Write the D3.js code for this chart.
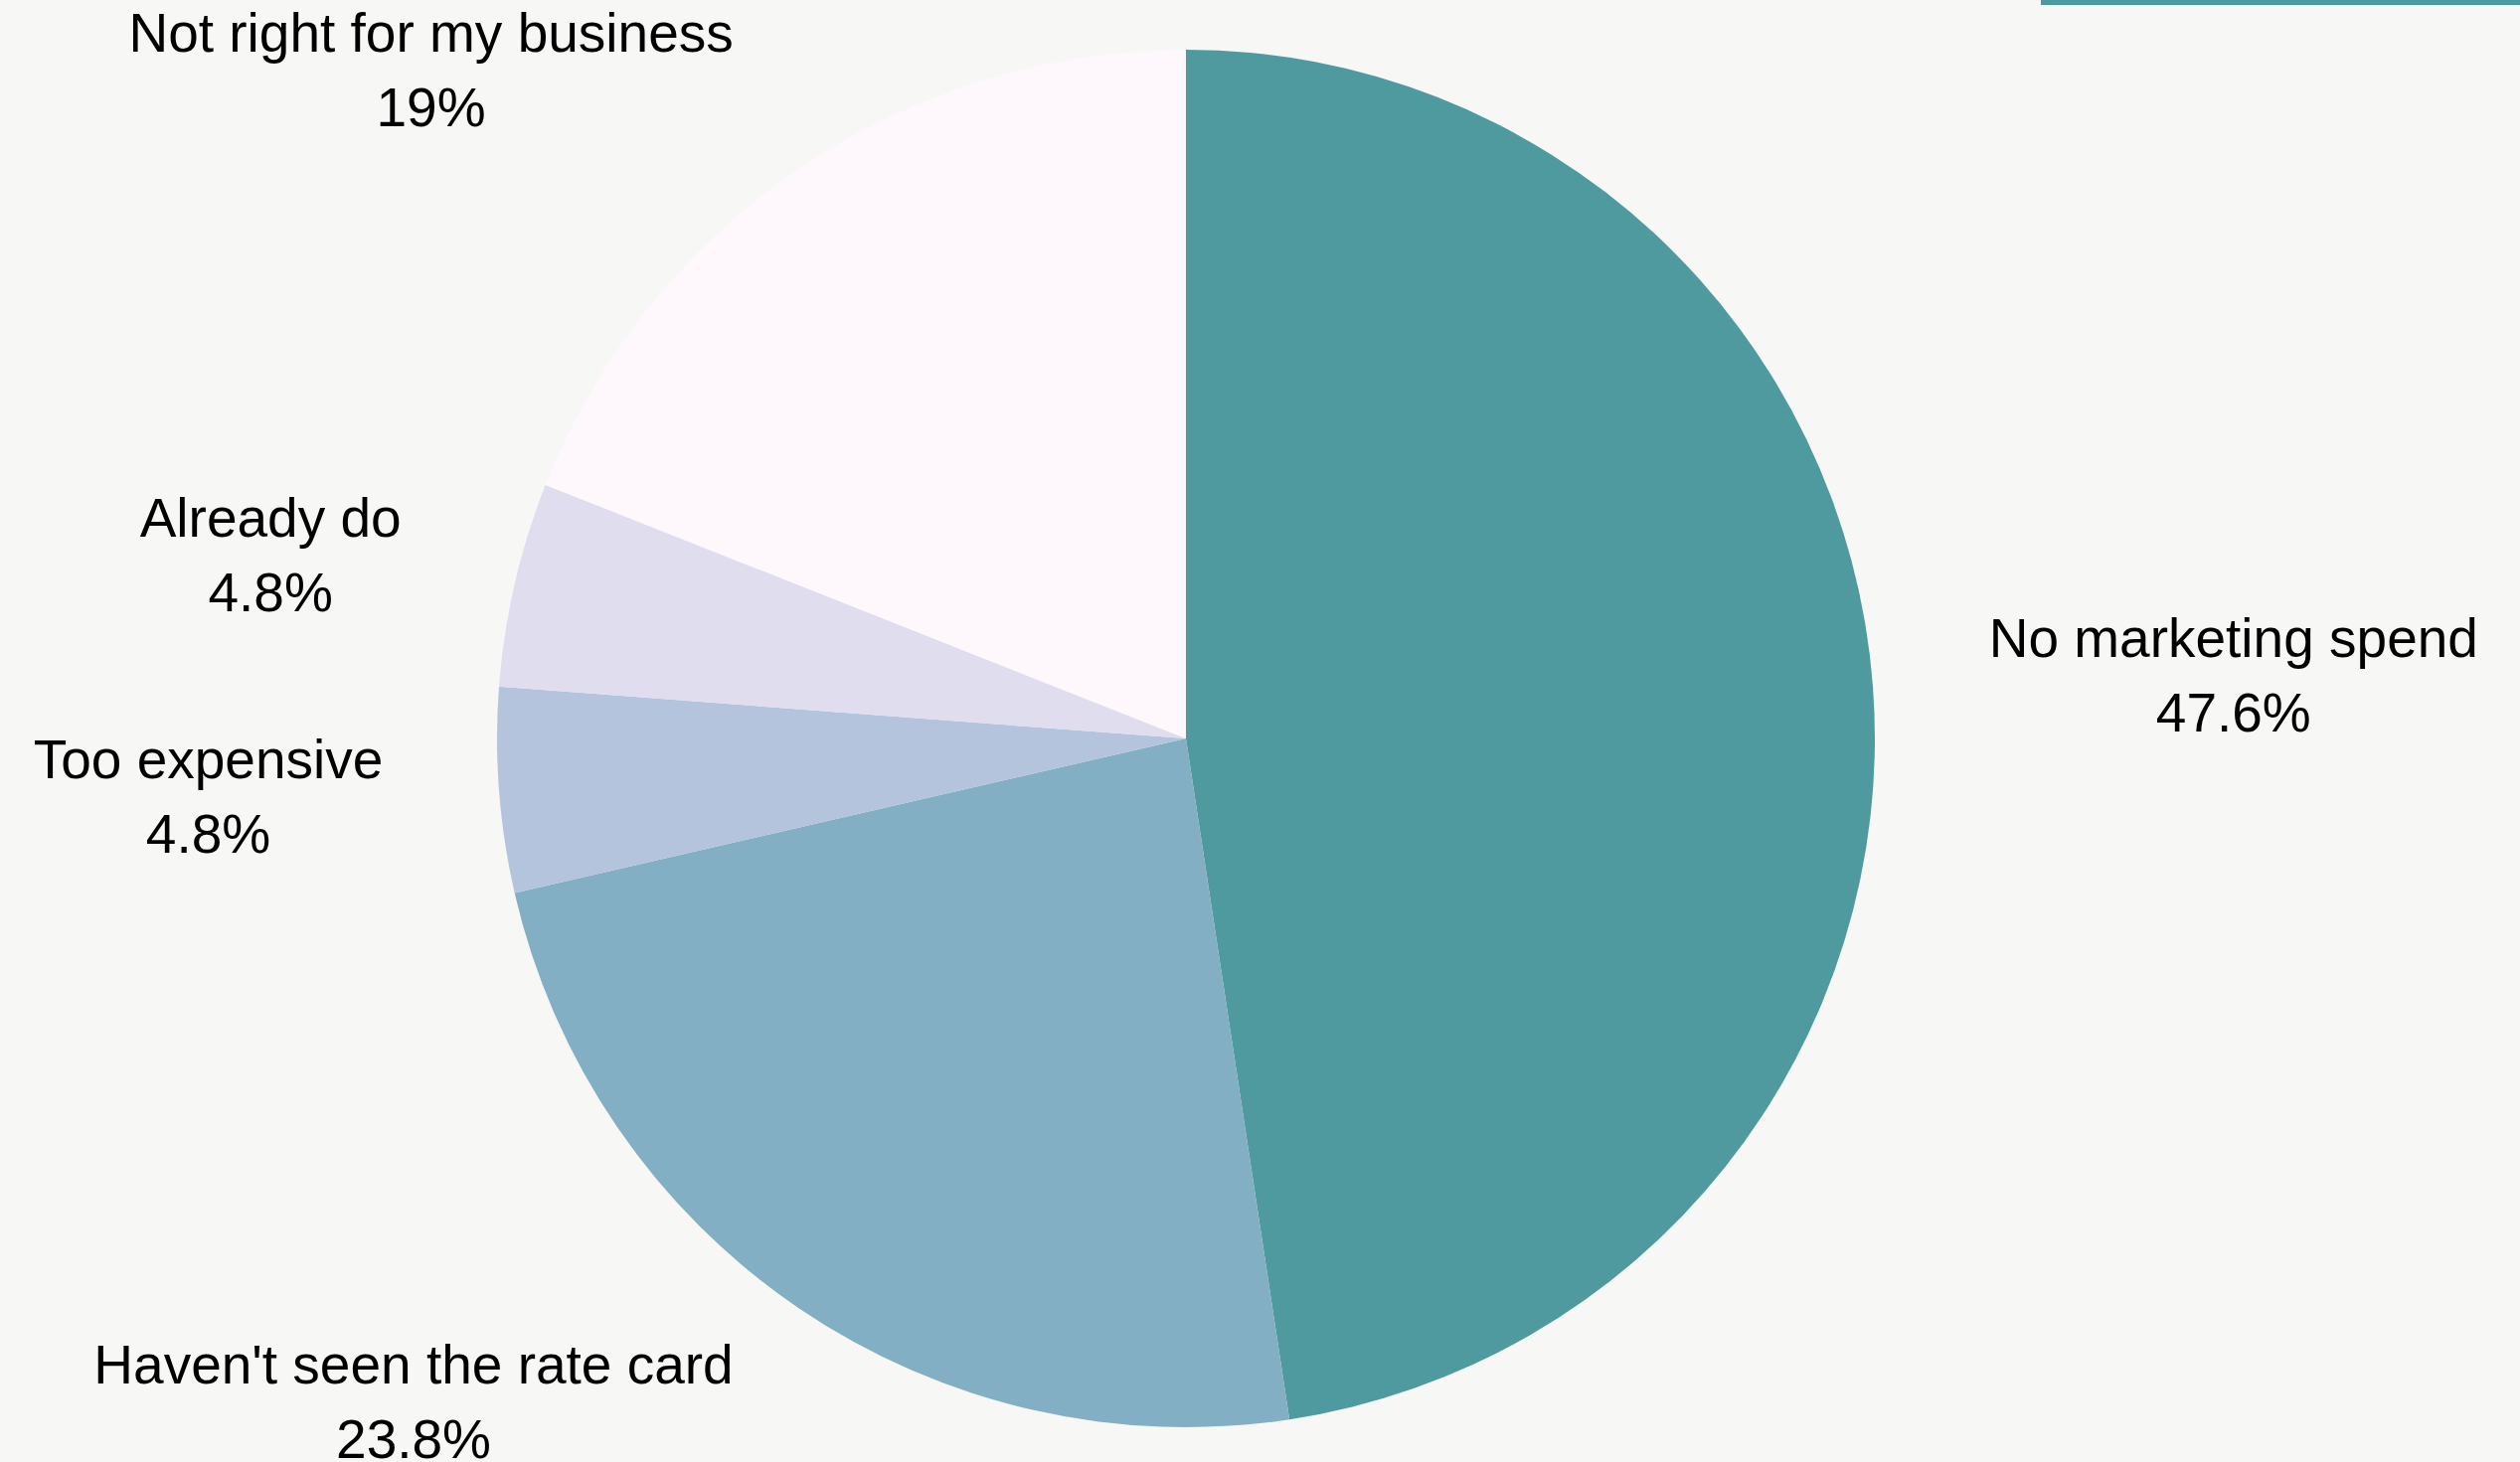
<!DOCTYPE html>
<html>
<head>
<meta charset="utf-8">
<script src="https://cdn.jsdelivr.net/npm/d3@7"></script>
<style>
  html, body { margin: 0; padding: 0; background: #f7f7f5; }
  svg { display: block; }
  .lbl { font-family: "Liberation Sans", Arial, sans-serif; font-size: 55px; fill: #000; }
</style>
</head>
<body>
<svg id="chart"></svg>
<script>
// data
var categories = ["No marketing spend", "Haven't seen the rate card", "Too expensive", "Already do", "Not right for my business"];
var shares = [47.6, 23.8, 4.8, 4.8, 19];
var colours = ["#4e9a9e", "#82afc3", "#b4c4dc", "#dfddee", "#fef7fc"];

var width = 2535, height = 1471;
var cx = 1193, cy = 743;
var radius = 693;
var labelRadius = 810;

var svg = d3.select("#chart")
    .attr("width", width)
    .attr("height", height);

svg.append("rect")
    .attr("width", width)
    .attr("height", height)
    .attr("fill", "#f7f7f5");

// teal strip at top right
svg.append("rect")
    .attr("x", 2053)
    .attr("y", 0)
    .attr("width", width - 2053)
    .attr("height", 5)
    .attr("fill", "#4a9a9e");

var pie = d3.pie().sort(null).value(function(d){ return d; });
var arcs = pie(shares);

var arc = d3.arc().innerRadius(0).outerRadius(radius);

var g = svg.append("g").attr("transform", "translate(" + cx + "," + cy + ")");

g.selectAll("path")
    .data(arcs)
    .enter()
    .append("path")
    .attr("d", arc)
    .attr("fill", function(d, i){ return colours[i]; });

// labels: block hugging a point on the label radius
var labels = g.selectAll("g.label")
    .data(arcs)
    .enter()
    .append("g")
    .attr("class", "label");

labels.each(function(d, i) {
    var sel = d3.select(this);
    var a = (d.startAngle + d.endAngle) / 2;
    var ax = labelRadius * Math.sin(a);
    var ay = -labelRadius * Math.cos(a);
    var t1 = sel.append("text").attr("class", "lbl").attr("text-anchor", "middle")
        .attr("y", ay - 21).text(categories[i]);
    var t2 = sel.append("text").attr("class", "lbl").attr("text-anchor", "middle")
        .attr("y", ay + 54).text(shares[i] + "%");
    var w = Math.max(t1.node().getComputedTextLength(), t2.node().getComputedTextLength());
    var mid = Math.sin(a) >= 0 ? ax + w / 2 : ax - w / 2;
    t1.attr("x", mid);
    t2.attr("x", mid);
});
</script>
</body>
</html>
